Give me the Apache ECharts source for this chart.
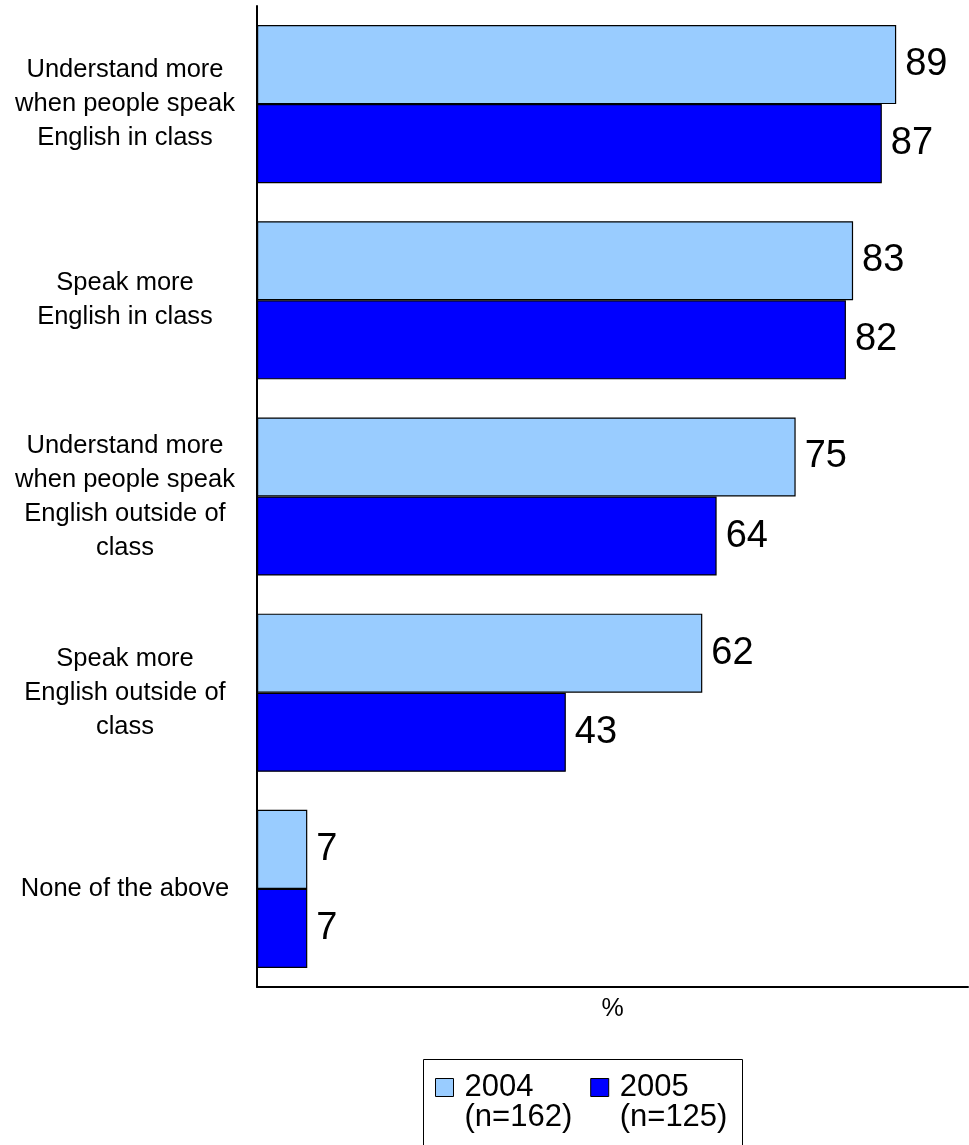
<!DOCTYPE html>
<html>
<head>
<meta charset="utf-8">
<script src="https://cdn.jsdelivr.net/npm/echarts@6/dist/echarts.min.js"></script>
<style>
html,body{margin:0;padding:0;background:#fff;}
#chart{width:969px;height:1145px;}
</style>
</head>
<body>
<div id="chart"></div>
<script>
const categories = [
  "Understand more\nwhen people speak\nEnglish in class",
  "Speak more\nEnglish in class",
  "Understand more\nwhen people speak\nEnglish outside of\nclass",
  "Speak more\nEnglish outside of\nclass",
  "None of the above"
];
const seriesNames = ["2004", "2005"];
const seriesSubLabels = ["(n=162)", "(n=125)"];
const values2004 = [89, 83, 75, 62, 7];
const values2005 = [87, 82, 64, 43, 7];
const axisName = "%";

const FONT = "Liberation Sans, Arial, sans-serif";
const chart = echarts.init(document.getElementById('chart'), null, {renderer: 'canvas'});

const labelStyle = {
  show: true,
  position: 'right',
  distance: 9,
  fontSize: 38,
  fontFamily: FONT,
  color: '#000'
};

const subMap = {};
seriesNames.forEach((n, i) => { subMap[n] = seriesSubLabels[i]; });

chart.setOption({
  animation: false,
  backgroundColor: '#fff',
  grid: {left: 257, top: 6, bottom: 158, right: 1, containLabel: false},
  xAxis: {
    type: 'value',
    min: 0,
    max: 99,
    name: axisName,
    nameLocation: 'middle',
    nameGap: 10,
    nameTextStyle: {fontSize: 25, fontFamily: FONT, color: '#000', verticalAlign: 'top'},
    axisLine: {show: true, lineStyle: {color: '#000', width: 2}},
    axisTick: {show: false},
    axisLabel: {show: false},
    splitLine: {show: false}
  },
  yAxis: {
    type: 'category',
    data: categories,
    inverse: true,
    axisLine: {show: true, lineStyle: {color: '#000', width: 2}},
    axisTick: {show: false},
    axisLabel: {
      show: true,
      margin: 132,
      align: 'center',
      fontSize: 25.5,
      lineHeight: 34,
      fontFamily: FONT,
      color: '#000'
    },
    splitLine: {show: false}
  },
  legend: {
    left: 435,
    top: 1042,
    padding: 0,
    itemWidth: 18,
    itemHeight: 18,
    itemGap: 18,
    icon: 'rect',
    itemStyle: {borderColor: '#000', borderWidth: 1},
    formatter: function (name) {
      return '{h| }\n{a|' + name + '}\n{a|' + subMap[name] + '}';
    },
    textStyle: {
      fontSize: 31,
      fontFamily: FONT,
      color: '#000',
      rich: {
        h: {fontSize: 31, lineHeight: 30, fontFamily: FONT, padding: [0, 0, 0, 6]},
        a: {fontSize: 31, lineHeight: 30, fontFamily: FONT, color: '#000', padding: [0, 0, 0, 6]}
      }
    },
    data: seriesNames
  },
  graphic: [{
    type: 'rect',
    shape: {x: 423.5, y: 1059.5, width: 319, height: 100},
    style: {fill: 'none', stroke: '#000', lineWidth: 1},
    silent: true,
    z: 100
  }],
  series: [
    {
      name: seriesNames[0],
      type: 'bar',
      data: values2004,
      barGap: '0%',
      barCategoryGap: '19.4%',
      itemStyle: {color: '#99CCFF', borderColor: '#000', borderWidth: 1.2},
      label: labelStyle
    },
    {
      name: seriesNames[1],
      type: 'bar',
      data: values2005,
      barGap: '0%',
      barCategoryGap: '19.4%',
      itemStyle: {color: '#0000FF', borderColor: '#000', borderWidth: 1.2},
      label: labelStyle
    }
  ]
});
</script>
</body>
</html>
